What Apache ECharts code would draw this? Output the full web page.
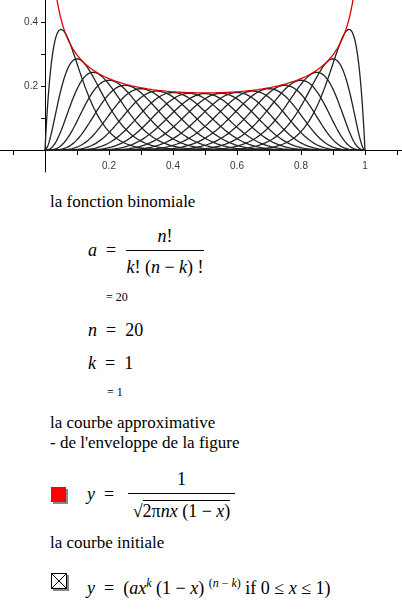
<!DOCTYPE html>
<html>
<head>
<meta charset="utf-8">
<script src="https://cdn.jsdelivr.net/npm/echarts@6/dist/echarts.min.js"></script>
<style>
body { margin: 0; background: #fff; width: 402px; height: 613px; overflow: hidden; position: relative; color: #000; }
#chart { position: absolute; left: 0; top: 0; width: 402px; height: 176px; }
.t, .frac { font-family: "Times New Roman", "Liberation Serif", Tinos, "DejaVu Serif", serif; }
.t { position: absolute; white-space: nowrap; font-size: 17px; line-height: 20px; }
.s { font-size: 12px; }
.frac { position: absolute; text-align: center; font-size: 18px; }
.bar { position: absolute; border-top: 1px solid #000; }
.box { position: absolute; width: 15px; height: 15px; box-shadow: 2px 2px 0 #888; }
</style>
</head>
<body>
<div id="chart"></div>

<div class="t" style="left:50px;top:192px">la fonction binomiale</div>
<div class="t" style="left:88px;top:240px;font-size:18px"><i>a</i> &nbsp;=</div>
<div class="frac" style="left:126px;top:226px;width:78px"><i>n</i>!</div>
<div class="bar" style="left:126px;top:250px;width:78px"></div>
<div class="frac" style="left:124px;top:257px;width:82px"><i>k</i>! (<i>n</i> − <i>k</i>) !</div>
<div class="t s" style="left:106px;top:287px">= 20</div>
<div class="t" style="left:88px;top:320px;font-size:18px"><i>n</i> &nbsp;= &nbsp;20</div>
<div class="t" style="left:88px;top:353px;font-size:18px"><i>k</i> &nbsp;= &nbsp;1</div>
<div class="t s" style="left:107px;top:382px">= 1</div>

<div class="t" style="left:50px;top:413px">la courbe approximative</div>
<div class="t" style="left:50px;top:433px">- de l'enveloppe de la figure</div>
<div class="box" style="left:51px;top:487px;background:#f00"></div>
<div class="t" style="left:87px;top:484px;font-size:18px"><i>y</i> &nbsp;=</div>
<div class="frac" style="left:128px;top:469px;width:107px">1</div>
<div class="bar" style="left:128px;top:493px;width:107px"></div>
<div class="frac" style="left:128px;top:501px;width:107px">√<span style="border-top:1px solid #000">2π<i>nx</i> (1 − <i>x</i>)</span></div>
<div class="t" style="left:50px;top:533px">la courbe initiale</div>
<div class="box" style="left:51px;top:573px;background:#fff;border:1px solid #000;width:14px;height:14px;overflow:hidden">
<svg width="14" height="14" style="display:block"><line x1="0" y1="0" x2="14" y2="14" stroke="#000"/><line x1="14" y1="0" x2="0" y2="14" stroke="#000"/></svg></div>
<div class="t" style="left:87px;top:573px;font-size:18px"><i>y</i> &nbsp;= &nbsp;(<i>ax<sup style="font-size:12px">k</sup></i> (1 − <i>x</i>) <sup style="font-size:12px">(<i>n</i> − <i>k</i>)</sup> if 0 ≤ <i>x</i> ≤ 1)</div>

<script>
// parametres de la figure
var n = 20;
var kValues = [1, 2, 3, 4, 5, 6, 7, 8, 9, 10, 11, 12, 13, 14, 15, 16, 17, 18, 19];
var xTicks = [-0.1, 0, 0.1, 0.2, 0.3, 0.4, 0.5, 0.6, 0.7, 0.8, 0.9, 1, 1.1];
var xLabels = [0.2, 0.4, 0.6, 0.8, 1];
var yTicks = [0.1, 0.2, 0.3, 0.4];
var yLabels = [0.2, 0.4];

function fact(m) { var r = 1; for (var i = 2; i <= m; i++) r *= i; return r; }

var xs = [];
for (var i = 0; i <= 400; i++) xs.push(i / 400);

var series = [];
kValues.forEach(function (k) {
	var a = fact(n) / (fact(k) * fact(n - k));
	series.push({
		type: "line", showSymbol: false, silent: true,
		lineStyle: {color: "#222", width: 1.3},
		data: xs.map(function (x) { return [x, a * Math.pow(x, k) * Math.pow(1 - x, n - k)]; })
	});
});
series.push({
	type: "line", showSymbol: false, silent: true,
	lineStyle: {color: "#e00000", width: 1.3},
	data: xs.slice(1, -1).map(function (x) { return [x, 1 / Math.sqrt(2 * Math.PI * n * x * (1 - x))]; })
});
// etiquettes des axes
var lblStyle = {show: true, color: "#000", fontSize: 10, fontFamily: "Liberation Sans"};
series.push({
	type: "scatter", symbolSize: 0, silent: true,
	label: Object.assign({position: "bottom", distance: 11, formatter: function (p) { return String(p.value[0]); }}, lblStyle),
	data: xLabels.map(function (v) { return [v, 0]; })
});
series.push({
	type: "scatter", symbolSize: 0, silent: true,
	label: Object.assign({position: "left", distance: 7, formatter: function (p) { return String(p.value[1]); }}, lblStyle),
	data: yLabels.map(function (v) { return [0, v]; })
});

var myChart = echarts.init(document.getElementById("chart"));
myChart.setOption({
	animation: false,
	grid: {left: 0, top: 0, width: 402, height: 172, outerBoundsMode: "none"},
	xAxis: {
		type: "value", min: -0.140625, max: 1.115625,
		splitLine: {show: false},
		axisLine: {onZero: true, lineStyle: {color: "#000"}},
		axisTick: {show: true, length: 5, customValues: xTicks, lineStyle: {color: "#000"}},
		axisLabel: {show: false}
	},
	yAxis: {
		type: "value", min: -0.06875, max: 0.46875,
		splitLine: {show: false},
		axisLine: {onZero: true, lineStyle: {color: "#000"}},
		axisTick: {show: true, length: 4, customValues: yTicks, lineStyle: {color: "#000"}},
		axisLabel: {show: false}
	},
	series: series
});
</script>
</body>
</html>
